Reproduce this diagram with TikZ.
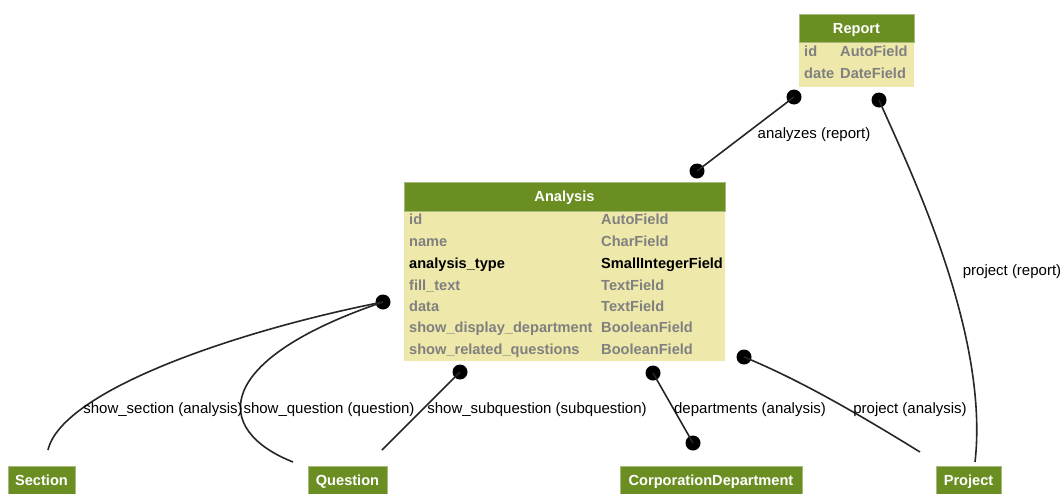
\documentclass[tikz,border=0pt]{standalone}
\usepackage{fontspec}
\setmainfont{Liberation Sans}
\definecolor{hdr}{HTML}{6B8E23}
\definecolor{bdy}{HTML}{EEE8AA}
\definecolor{fld}{HTML}{808080}
\begin{document}
\begin{tikzpicture}[x=1pt,y=-1pt,
  hdrbox/.style={fill=hdr,draw=hdr!60!white,line width=0.6pt},
  bdybox/.style={fill=bdy,draw=none},
  hdrtxt/.style={text=white,font=\fontsize{14.6}{17}\selectfont\bfseries,inner sep=0pt,text height=10.5pt,text depth=0pt},
  fldtxt/.style={text=fld,font=\fontsize{14.6}{17}\selectfont\bfseries,inner sep=0pt,anchor=west,text height=10.5pt,text depth=0pt},
  keytxt/.style={text=black,font=\fontsize{14.6}{17}\selectfont\bfseries,inner sep=0pt,anchor=west,text height=10.5pt,text depth=0pt},
  lbl/.style={font=\fontsize{15}{18}\selectfont,inner sep=0pt,text=black,text height=10.8pt,text depth=0pt},
  dot/.style={circle,fill=black,inner sep=0pt,minimum size=15pt},
  conn/.style={line width=1.6pt,black!85}]
\useasboundingbox (0,0) rectangle (1062,493);
\fill[white] (0,0) rectangle (1062,493);
% Report
\draw[bdybox] (799,42) rectangle (914,87);
\draw[hdrbox] (799,14) rectangle (914,42);
\node[hdrtxt] (report) at (856.5,28) {Report};
\node[fldtxt] (rid) at (804,51) {id};
\node[fldtxt] (ridt) at (840,51) {AutoField};
\node[fldtxt] (rdate) at (804,73) {date};
\node[fldtxt] (rdatet) at (840,73) {DateField};
% Analysis
\draw[bdybox] (404,211) rectangle (725,361);
\draw[hdrbox] (404,182) rectangle (725,211);
\node[hdrtxt] (analysis) at (564.5,196) {Analysis};
\node[fldtxt] (a1) at (409,219) {id};
\node[fldtxt] (a1t) at (601,219) {AutoField};
\node[fldtxt] (a2) at (409,241) {name};
\node[fldtxt] (a2t) at (601,241) {CharField};
\node[keytxt] (a3) at (409,263) {analysis\_type};
\node[keytxt] (a3t) at (601,263) {SmallIntegerField};
\node[fldtxt] (a4) at (409,285) {fill\_text};
\node[fldtxt] (a4t) at (601,285) {TextField};
\node[fldtxt] (a5) at (409,306) {data};
\node[fldtxt] (a5t) at (601,306) {TextField};
\node[fldtxt] (a6) at (409,327) {show\_display\_department};
\node[fldtxt] (a6t) at (601,327) {BooleanField};
\node[fldtxt] (a7) at (409,349) {show\_related\_questions};
\node[fldtxt] (a7t) at (601,349) {BooleanField};
% bottom models
\draw[hdrbox] (8,466) rectangle (75,496);
\node[hdrtxt] (section) at (41.5,480) {Section};
\draw[hdrbox] (308,466) rectangle (387,496);
\node[hdrtxt] (question) at (347.5,480) {Question};
\draw[hdrbox] (620,466) rectangle (802,496);
\node[hdrtxt] (corp) at (711,480) {CorporationDepartment};
\draw[hdrbox] (936,466) rectangle (1001,496);
\node[hdrtxt] (project) at (968.5,480) {Project};
% connector endpoints
\node[dot] (d1) at (794,97) {};
\node[dot] (d2) at (697,171) {};
\node[dot] (d3) at (879,100) {};
\coordinate (p1) at (975,462);
\node[dot] (d4) at (383,302) {};
\coordinate (s1) at (48,450);
\coordinate (q1) at (293,462);
\node[dot] (d5) at (460,372) {};
\coordinate (q2) at (382,450);
\node[dot] (d6) at (653,373) {};
\node[dot] (d7) at (693,443) {};
\node[dot] (d8) at (744,357) {};
\coordinate (p2) at (920,452);
% connectors
\draw[conn] (d1.center) -- (d2.center);
\draw[conn] (d3.center) .. controls (905,160) and (990,330) .. (p1);
\draw[conn] (s1) .. controls (62,390) and (240,330) .. (d4.center);
\draw[conn] (q1) .. controls (212,430) and (212,360) .. (d4.center);
\draw[conn] (d5.center) -- (q2);
\draw[conn] (d6.center) -- (d7.center);
\draw[conn] (d8.center) .. controls (800,380) and (860,415) .. (p2);
% labels
\node[lbl] (l1) at (814,133) {analyzes (report)};
\node[lbl] (l2) at (1012,270) {project (report)};
\node[lbl] (l3) at (163,408) {show\_section (analysis)};
\node[lbl] (l4) at (329,408) {show\_question (question)};
\node[lbl] (l5) at (537,408) {show\_subquestion (subquestion)};
\node[lbl] (l6) at (750,408) {departments (analysis)};
\node[lbl] (l7) at (910,408) {project (analysis)};
\end{tikzpicture}
\end{document}
